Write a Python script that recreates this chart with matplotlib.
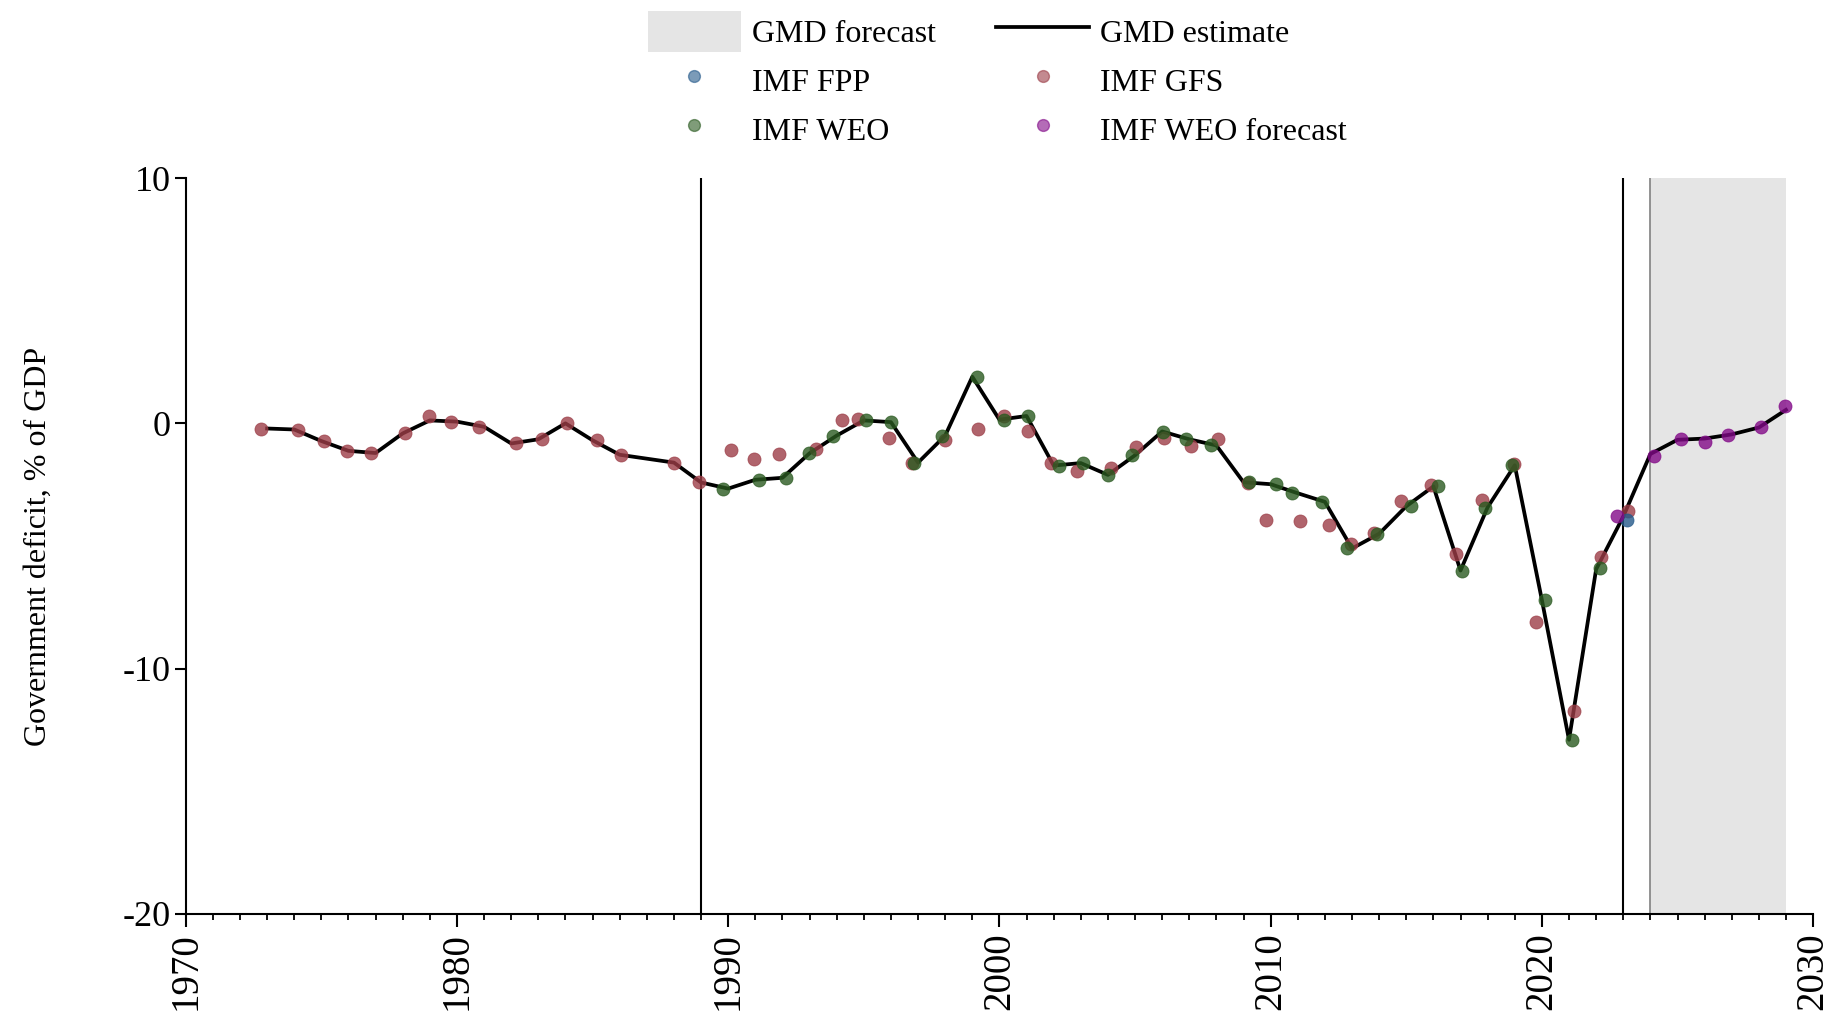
import matplotlib
matplotlib.use('Agg')
import matplotlib.pyplot as plt
from matplotlib.lines import Line2D
from matplotlib.patches import Patch
from matplotlib.ticker import MultipleLocator

plt.rcParams['font.family'] = ['Liberation Serif', 'DejaVu Serif']
plt.rcParams['axes.unicode_minus'] = False

# GMD estimate, one value per year (no value for 1987)
gmd_years = [1973, 1974, 1975, 1976, 1977, 1978, 1979, 1980, 1981, 1982, 1983, 1984,
             1985, 1986, 1988, 1989, 1990, 1991, 1992, 1993, 1994, 1995, 1996, 1997,
             1998, 1999, 2000, 2001, 2002, 2003, 2004, 2005, 2006, 2007, 2008, 2009,
             2010, 2011, 2012, 2013, 2014, 2015, 2016, 2017, 2018, 2019, 2020, 2021,
             2022, 2023, 2024, 2025, 2026, 2027, 2028, 2029]
gmd_values = [-0.21, -0.25, -0.72, -1.12, -1.21, -0.41, 0.12, 0.07, -0.14, -0.82, -0.65, 0.0,
              -0.69, -1.28, -1.6, -2.41, -2.66, -2.3, -2.22, -1.22, -0.5, 0.12, 0.05, -1.6,
              -0.5, 1.9, 0.15, 0.3, -1.72, -1.62, -2.1, -1.3, -0.33, -0.65, -0.9, -2.4,
              -2.48, -2.85, -3.2, -5.1, -4.5, -3.38, -2.57, -6.0, -3.42, -1.71, -7.2, -12.9,
              -5.95, -3.8, -1.25, -0.67, -0.62, -0.45, -0.17, 0.55]

# source points (x positions are slightly jittered around the year in the original)
gfs_x = [1972.78, 1974.13, 1975.11, 1975.95, 1976.83, 1978.07, 1978.97, 1979.79, 1980.83,
         1982.16, 1983.14, 1984.04, 1985.18, 1986.05, 1987.99, 1988.93, 1990.11, 1990.94,
         1991.86, 1993.23, 1994.2, 1994.8, 1995.93, 1996.78, 1997.98, 1999.22, 2000.18,
         2001.07, 2001.89, 2002.86, 2004.11, 2005.02, 2006.08, 2007.08, 2008.05, 2009.15,
         2009.83, 2011.1, 2012.16, 2012.95, 2013.8, 2014.8, 2015.9, 2016.84, 2017.81,
         2018.99, 2019.79, 2021.19, 2022.18, 2023.19]
gfs_y = [-0.21, -0.28, -0.72, -1.14, -1.21, -0.41, 0.29, 0.07, -0.14,
         -0.8, -0.65, 0.0, -0.69, -1.28, -1.63, -2.41, -1.08, -1.46,
         -1.26, -1.06, 0.13, 0.17, -0.59, -1.6, -0.66, -0.24, 0.32,
         -0.31, -1.62, -1.94, -1.8, -0.96, -0.6, -0.93, -0.65, -2.42,
         -3.93, -3.98, -4.13, -4.93, -4.47, -3.17, -2.53, -5.34, -3.11,
         -1.64, -8.1, -11.74, -5.45, -3.59]

weo_x = [1989.8, 1991.15, 1992.12, 1992.97, 1993.86, 1995.09, 1996.02, 1996.85, 1997.87,
         1999.19, 2000.18, 2001.06, 2002.21, 2003.08, 2004.02, 2004.9, 2006.04, 2006.88,
         2007.8, 2009.19, 2010.18, 2010.79, 2011.88, 2012.83, 2013.93, 2015.19, 2016.16,
         2017.04, 2017.89, 2018.88, 2020.1, 2021.11, 2022.15]
weo_y = [-2.66, -2.3, -2.22, -1.22, -0.52, 0.14, 0.05, -1.62, -0.5,
         1.9, 0.15, 0.3, -1.72, -1.62, -2.1, -1.3, -0.34, -0.65,
         -0.9, -2.4, -2.48, -2.85, -3.21, -5.09, -4.5, -3.37, -2.54,
         -6.02, -3.44, -1.71, -7.2, -12.9, -5.91]

fpp_x = [2023.14]
fpp_y = [-3.93]

weo_fc_x = [2022.78, 2024.15, 2025.13, 2026.0, 2026.85, 2028.08, 2028.98]
weo_fc_y = [-3.78, -1.32, -0.65, -0.75, -0.49, -0.16, 0.72]

forecast_start, forecast_end = 2024, 2029
break_years = [1989, 2023]

c_gfs = '#9c3d47'
c_weo = '#2a5a20'
c_fpp = '#24598a'
c_weo_fc = '#820a88'

fig = plt.figure(figsize=(18.37, 10.18), dpi=100)
ax = fig.add_axes([0.1011, 0.1022, 0.8859, 0.7229])

ax.axvspan(forecast_start, forecast_end, facecolor='#e5e5e5', edgecolor='none', zorder=0)
ax.axvline(forecast_start, color='#8a8a8a', lw=1.3, zorder=1)
for yr in break_years:
    ax.axvline(yr, color='black', lw=1.5, zorder=1)

ax.plot(gmd_years, gmd_values, color='black', lw=2.7, zorder=2)

dot = dict(s=88, alpha=0.8, linewidths=0.6, zorder=3)
ax.scatter(gfs_x, gfs_y, color=c_gfs, **dot)
ax.scatter(weo_x, weo_y, color=c_weo, **dot)
ax.scatter(fpp_x, fpp_y, color=c_fpp, **dot)
ax.scatter(weo_fc_x, weo_fc_y, color=c_weo_fc, **dot)

ax.set_xlim(1970, 2030)
ax.set_ylim(-20, 10)
ax.set_xticks(range(1970, 2031, 10))
ax.xaxis.set_minor_locator(MultipleLocator(1))
ax.set_yticks([-20, -10, 0, 10])
ax.tick_params(axis='x', which='major', labelsize=28, rotation=90, length=9, width=1.5, pad=4)
ax.tick_params(axis='x', which='minor', length=4.5, width=1.3)
ax.tick_params(axis='y', labelsize=26, length=8, width=1.5, pad=3)
for lab in ax.get_xticklabels():
    lab.set_verticalalignment('top')

for side in ['top', 'right']:
    ax.spines[side].set_visible(False)
for side in ['left', 'bottom']:
    ax.spines[side].set_linewidth(1.5)

ax.set_ylabel('Government deficit, % of GDP', fontsize=23, labelpad=50)

mk = dict(marker='o', linestyle='none', markersize=8.5, alpha=0.6)
handles = [
    Patch(facecolor='#e5e5e5', edgecolor='none'),
    Line2D([], [], color=c_fpp, **mk),
    Line2D([], [], color=c_weo, **mk),
    Line2D([], [], color='black', lw=2.7),
    Line2D([], [], color=c_gfs, **mk),
    Line2D([], [], color=c_weo_fc, **mk),
]
labels = ['GMD forecast', 'IMF FPP', 'IMF WEO', 'GMD estimate', 'IMF GFS', 'IMF WEO forecast']
fig.legend(handles, labels, loc='upper center', bbox_to_anchor=(0.543, 1.003), ncol=2,
           frameon=False, fontsize=23, handlelength=2.9, handleheight=1.6,
           columnspacing=1.9, labelspacing=0.25, handletextpad=0.35, borderaxespad=0.05)

fig.savefig('out.png', dpi=100)
